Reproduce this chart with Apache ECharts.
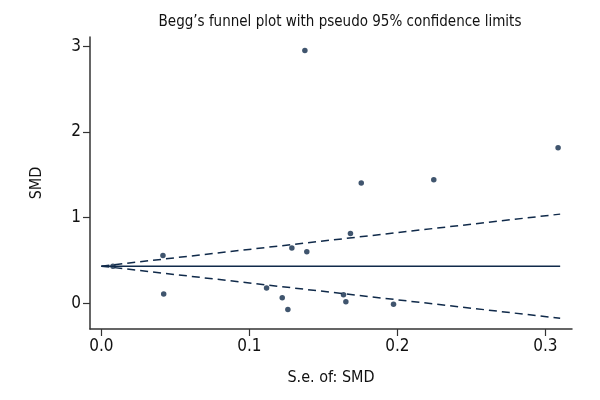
<!DOCTYPE html>
<html>
<head>
<meta charset="utf-8">
<script src="https://cdn.jsdelivr.net/npm/echarts@6/dist/echarts.min.js"></script>
<style>html,body{margin:0;padding:0;background:#fff;}#c{width:600px;height:400px;}</style>
</head>
<body>
<div id="c"></div>
<script>
// Study points: standard error of SMD and SMD
const seValues  = [0.0078, 0.0416, 0.0421, 0.1116, 0.1222, 0.1260, 0.1287, 0.1375, 0.1388, 0.1636, 0.1652, 0.1683, 0.1756, 0.1974, 0.2246, 0.3086];
const smdValues = [0.433, 0.557, 0.107, 0.177, 0.064, -0.072, 0.646, 2.948, 0.600, 0.099, 0.017, 0.813, 1.403, -0.010, 1.441, 1.813];
// Pooled estimate line and pseudo 95% limits endpoints
const lineSe    = [0, 0.31];
const pooled    = [0.433, 0.433];
const upperLim  = [0.433, 1.040];
const lowerLim  = [0.433, -0.175];
const xTicks    = [0, 0.1, 0.2, 0.3];
const yTicks    = [0, 1, 2, 3];

const FONT = '"Liberation Sans Narrow", "DejaVu Sans Condensed", sans-serif';
const NAVY = '#102a4a';
const AX = '#333333';

const pts = seValues.map((s, i) => [s, smdValues[i]]);
const mk = arr => lineSe.map((s, i) => [s, arr[i]]);

const chart = echarts.init(document.getElementById('c'), null, {renderer: 'canvas'});
chart.setOption({
  animation: false,
  backgroundColor: '#ffffff',
  title: {
    text: "Begg\u2019s funnel plot with pseudo 95% confidence limits",
    left: 335, top: 10, textAlign: 'center',
    textStyle: {fontFamily: FONT, fontSize: 15, fontWeight: 'normal', color: '#111'}
  },
  grid: {left: 90, right: 28, top: 37, bottom: 71},
  xAxis: {
    type: 'value', min: -0.0077, max: 0.318,
    name: 'S.e. of: SMD', nameLocation: 'middle', nameGap: 41,
    nameTextStyle: {fontFamily: FONT, fontSize: 16, color: '#111'},
    axisLine: {show: true, onZero: false, lineStyle: {color: AX, width: 1.5}},
    axisTick: {show: true, length: 7, lineStyle: {color: AX, width: 1.2},
      customValues: xTicks},
    axisLabel: {fontFamily: FONT, fontSize: 17, color: '#111', margin: 9,
      customValues: xTicks, formatter: v => v.toFixed(1)},
    splitLine: {show: false}
  },
  yAxis: {
    type: 'value', min: -0.30, max: 3.106,
    name: 'SMD', nameLocation: 'middle', nameGap: 45,
    nameTextStyle: {fontFamily: FONT, fontSize: 16, color: '#111'},
    axisLine: {show: true, onZero: false, lineStyle: {color: AX, width: 1.5}},
    axisTick: {show: true, length: 7, lineStyle: {color: AX, width: 1.2},
      customValues: yTicks},
    axisLabel: {fontFamily: FONT, fontSize: 17, color: '#111', margin: 9,
      customValues: yTicks, formatter: v => String(v)},
    splitLine: {show: false}
  },
  series: [
    {type: 'line', data: mk(pooled), symbol: 'none', silent: true,
     lineStyle: {color: NAVY, width: 1.5}},
    {type: 'line', data: mk(upperLim), symbol: 'none', silent: true,
     lineStyle: {color: NAVY, width: 1.5, type: [8, 5]}},
    {type: 'line', data: mk(lowerLim), symbol: 'none', silent: true,
     lineStyle: {color: NAVY, width: 1.5, type: [8, 5]}},
    {type: 'scatter', data: pts, symbol: 'circle', symbolSize: 5.5,
     itemStyle: {color: NAVY}}
  ]
});
</script>
</body>
</html>
